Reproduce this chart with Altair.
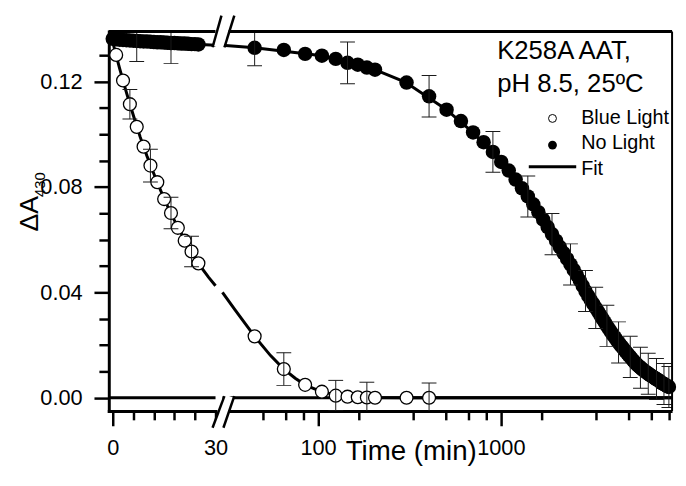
import altair as alt
import pandas as pd

FONT = "Liberation Sans"

# ---------------- data ----------------
# Blue Light (open circles): linear segment (0-30 min) and log segment (>30 min)
blue_t_lin = [1, 3, 5, 7, 9, 11, 13, 15, 17, 19, 21, 23, 25]
blue_v_lin = [0.1301, 0.1204, 0.1114, 0.1028, 0.0953, 0.0881, 0.0818, 0.0754,
              0.0701, 0.0645, 0.0596, 0.0555, 0.0510]
blue_t_log = [45, 65, 85, 105, 125, 145, 165, 185, 205, 305, 405]
blue_v_log = [0.0233, 0.0109, 0.0049, 0.0023, 0.0008, 0.0004, 0.0002, 0.0001,
              0.0000, 0.0000, 0.0000]
blue_err_t = [5, 11, 17, 23, 65, 125, 185, 405]
blue_err_sd = [0.0056, 0.0062, 0.0060, 0.0058, 0.0062, 0.0058, 0.0058, 0.0056]

# No Light (filled circles)
dark_t_lin = [0, 1, 2, 3, 4, 5, 6, 7, 8, 9, 10, 11, 12, 13, 14, 15, 16, 17, 18,
              19, 20, 21, 22, 23, 24, 25]
dark_v_lin = [0.1362, 0.1360, 0.1359, 0.1358, 0.1357, 0.1356, 0.1355, 0.1354,
              0.1353, 0.1352, 0.1352, 0.1351, 0.1350, 0.1349, 0.1349, 0.1348,
              0.1347, 0.1346, 0.1346, 0.1345, 0.1344, 0.1344, 0.1343, 0.1342,
              0.1342, 0.1341]
dark_t_log = [45, 65, 85, 105, 125, 145, 165, 185, 205,
              305, 405, 505, 605, 705, 805, 905, 1005, 1105, 1205, 1305, 1405,
              1505, 1605, 1705, 1805, 1905, 2005, 2105, 2205, 2305, 2405, 2505,
              2605, 2705, 2805, 2905, 3005, 3105, 3205, 3305, 3405, 3505, 3605,
              3705, 3805, 3905, 4005, 4105, 4205, 4305, 4405, 4505, 4605, 4705,
              4805, 4905, 5005, 5105, 5205, 5305, 5405, 5505, 5605, 5705, 5805,
              5905, 6005, 6105, 6205, 6305, 6405, 6505, 6605, 6705, 6805, 6905,
              7005, 7105, 7205, 7305, 7405, 7505, 7605, 7705, 7805, 7905, 8005,
              8105, 8205, 8305]
dark_v_log = [0.1328, 0.1320, 0.1305, 0.1298, 0.1286, 0.1271, 0.1264, 0.1253, 0.1245,
              0.1196, 0.1144, 0.1093, 0.1050, 0.1007, 0.0970, 0.0933, 0.0895, 0.0862,
              0.0828, 0.0795, 0.0764, 0.0734, 0.0704, 0.0676, 0.0648, 0.0621, 0.0596,
              0.0572, 0.0549, 0.0527, 0.0506, 0.0485, 0.0465, 0.0445, 0.0425, 0.0405,
              0.0387, 0.0371, 0.0356, 0.0341, 0.0327, 0.0313, 0.0299, 0.0286, 0.0273,
              0.0261, 0.0250, 0.0239, 0.0229, 0.0219, 0.0210, 0.0201, 0.0193, 0.0185,
              0.0177, 0.0169, 0.0162, 0.0155, 0.0148, 0.0141, 0.0135, 0.0129, 0.0124,
              0.0119, 0.0114, 0.0110, 0.0106, 0.0102, 0.0098, 0.0095, 0.0091, 0.0088,
              0.0085, 0.0082, 0.0079, 0.0076, 0.0073, 0.0071, 0.0068, 0.0066, 0.0063,
              0.0058, 0.0056, 0.0054, 0.0052, 0.0050, 0.0047, 0.0045, 0.0043, 0.0041]
dark_err_t = [7, 17, 45, 145, 405, 905, 1405, 1905, 2405, 2905, 3305, 3805, 4405,
              5105, 5805, 6405, 7105, 7805, 8305]
dark_err_sd = [0.0078, 0.0078, 0.0068, 0.0079, 0.0079, 0.0077, 0.0078, 0.0078,
               0.0078, 0.0078, 0.0078, 0.0078, 0.0078, 0.0078, 0.0078, 0.0078,
               0.0078, 0.0078, 0.0078]

# Fit curves
fit_blue_t_lin = [0, 2, 4, 6, 8, 10, 12, 14, 16, 18, 20, 22, 24, 26, 28, 30]
fit_blue_v_lin = [0.1350, 0.1250, 0.1158, 0.1072, 0.0990, 0.0917, 0.0850, 0.0786,
                  0.0727, 0.0673, 0.0623, 0.0577, 0.0534, 0.0492, 0.0457, 0.0425]
fit_blue_t_log = [30, 35, 45, 55, 65, 75, 85, 100, 125, 150, 200, 300, 8645]
fit_blue_v_log = [0.0400, 0.0335, 0.0233, 0.0160, 0.0109, 0.0074, 0.0049, 0.0028,
                  0.0010, 0.0004, 0.0001, 0.0000, 0.0000]
fit_dark_t_lin = [0, 10, 20, 30]
fit_dark_v_lin = [0.1362, 0.1352, 0.1344, 0.1338]
fit_dark_t_log = [30, 45, 100, 200, 300, 500, 700, 1000, 1500, 2000, 2500, 3000,
                  3500, 4000, 4500, 5000, 5500, 6000, 7000, 8000, 8645]
fit_dark_v_log = [0.1338, 0.1328, 0.1300, 0.1248, 0.1198, 0.1095, 0.1008, 0.0897,
                  0.0735, 0.0597, 0.0486, 0.0388, 0.0314, 0.0251, 0.0202, 0.0162,
                  0.0129, 0.0106, 0.0073, 0.0048, 0.0036]

# Axes
x_ticks_lin = [0, 6, 12, 18, 24, 30]
x_labels_lin = [0, 30]
x_ticks_log = [50, 66.7, 83.3, 100, 166.7, 333.3, 500, 666.7, 833.3, 1000,
               1666.7, 3333.3, 5000, 6666.7, 8333.3]
x_labels_log = [100, 1000]
y_ticks = [0.00, 0.01, 0.02, 0.03, 0.04, 0.05, 0.06, 0.07, 0.08, 0.09, 0.10,
           0.11, 0.12, 0.13]
y_labels = [0.00, 0.04, 0.08, 0.12]

annotation_lines = ["K258A AAT,", "pH 8.5, 25ºC"]
legend_labels = ["Blue Light", "No Light", "Fit"]
x_title = "Time (min)"
y_title = ["ΔA", "430"]

# ---------------- layout constants ----------------
LW, RW, H = 108, 455, 384
GAP = 7
EBAR = "#1a1a1a"


def df(t, v):
    return pd.DataFrame({"t": t, "v": v})


def err_df(t_all, v_all, et, sd):
    look = dict(zip(t_all, v_all))
    return pd.DataFrame({"t": et,
                         "lo": [look[t] - s for t, s in zip(et, sd)],
                         "hi": [look[t] + s for t, s in zip(et, sd)]})


def in_list(vals):
    return " || ".join(f"datum.value == {v}" for v in vals)


ONE = pd.DataFrame({"k": [0]})


def seg(x1, x2, y1, y2, color="black", width=3.0):
    return alt.Chart(ONE).mark_rule(color=color, strokeWidth=width).encode(
        x=alt.value(x1), x2=alt.value(x2), y=alt.value(y1), y2=alt.value(y2))


def txt(s, x, y, size, align="left", angle=0):
    return alt.Chart(pd.DataFrame({"s": [s]})).mark_text(
        font=FONT, fontSize=size, align=align, baseline="alphabetic",
        angle=angle, color="black").encode(
        text="s:N", x=alt.value(x), y=alt.value(y))


ys = alt.Scale(domain=[-0.005, 0.139], nice=False, zero=False)
xs_lin = alt.Scale(domain=[-1.154, 30], nice=False, zero=False)
xs_log = alt.Scale(type="log", domain=[30, 8645], nice=False)

common_axis = dict(grid=False, title=None, labelFont=FONT, labelFontSize=22,
                   labelColor="black", tickColor="black", domainColor="black",
                   tickWidth=2.5, domainWidth=3, labelPadding=12,
                   labelOverlap=False, labelFlush=False)

ax_lin = alt.Axis(values=x_ticks_lin, format="d", labelAngle=0, domainCap="square",
                  labelExpr=f"({in_list(x_labels_lin)}) ? datum.label : ''",
                  tickSize={"condition": {"test": in_list(x_labels_lin), "value": 15}, "value": 9},
                  **common_axis)
ax_log = alt.Axis(values=x_ticks_log, format="d", labelAngle=0, domainCap="butt",
                  labelExpr=f"({in_list(x_labels_log)}) ? datum.label : ''",
                  tickSize={"condition": {"test": in_list(x_labels_log), "value": 15}, "value": 9},
                  **common_axis)
ay = alt.Axis(values=y_ticks, format=".2f", domainCap="square",
              labelExpr=f"({in_list(y_labels)}) ? datum.label : ''",
              tickSize={"condition": {"test": in_list(y_labels), "value": 15}, "value": 10},
              **common_axis)


def panel_layers(xscale, xaxis, yaxis, fb_t, fb_v, fd_t, fd_v,
                 b_t, b_v, d_t, d_v, berr, derr):
    X = alt.X("t:Q", scale=xscale, axis=xaxis)
    Y = alt.Y("v:Q", scale=ys, axis=yaxis)
    fit_b = alt.Chart(df(fb_t, fb_v)).mark_line(color="black", strokeWidth=3).encode(x=X, y=Y)
    fit_d = alt.Chart(df(fd_t, fd_v)).mark_line(color="black", strokeWidth=3).encode(x=X, y=Y)
    zero = alt.Chart(pd.DataFrame({"v": [0.0]})).mark_rule(color="black", strokeWidth=3).encode(
        y=alt.Y("v:Q", scale=ys, axis=yaxis))
    dark = alt.Chart(df(d_t, d_v)).mark_circle(size=215, color="black", opacity=1).encode(x=X, y=Y)
    blue = alt.Chart(df(b_t, b_v)).mark_circle(size=170, fill="white", stroke="black",
                                               strokeWidth=1.3, opacity=1).encode(x=X, y=Y)
    layers = [fit_b, fit_d, zero, dark, blue]
    for e in (berr, derr):
        stem = alt.Chart(e).mark_rule(color=EBAR, strokeWidth=1, clip=True).encode(
            x=X, y=alt.Y("lo:Q", scale=ys, axis=yaxis), y2="hi:Q")
        cap_lo = alt.Chart(e).mark_tick(orient="horizontal", size=15, thickness=1,
                                        color=EBAR, opacity=1, clip=True).encode(
            x=X, y=alt.Y("lo:Q", scale=ys, axis=yaxis))
        cap_hi = alt.Chart(e).mark_tick(orient="horizontal", size=15, thickness=1,
                                        color=EBAR, opacity=1, clip=True).encode(
            x=X, y=alt.Y("hi:Q", scale=ys, axis=yaxis))
        layers += [stem, cap_lo, cap_hi]
    return layers


# ---------------- left panel (linear 0-30 min) ----------------
left_layers = panel_layers(
    xs_lin, ax_lin, ay,
    fit_blue_t_lin, fit_blue_v_lin, fit_dark_t_lin, fit_dark_v_lin,
    blue_t_lin, blue_v_lin, dark_t_lin, dark_v_lin,
    err_df(blue_t_lin, blue_v_lin, blue_err_t[:4], blue_err_sd[:4]),
    err_df(dark_t_lin, dark_v_lin, dark_err_t[:2], dark_err_sd[:2]))
anchor = alt.Chart(ONE).mark_rule(color="white", strokeWidth=0, strokeOpacity=0).encode(
    x=alt.value(-102), x2=alt.value(-101), y=alt.value(-21), y2=alt.value(-21))
left_layers = [anchor] + left_layers + [
    seg(0, LW, 0, 0, width=3),
    txt(y_title[0], -72, 184.5, 27, align="center", angle=270),
    txt(y_title[1], -65, 155, 15, align="center", angle=270),
]
left = alt.layer(*left_layers).properties(width=LW, height=H)

# ---------------- right panel (log, >30 min) ----------------
right_layers = panel_layers(
    xs_log, ax_log, None,
    fit_blue_t_log, fit_blue_v_log, fit_dark_t_log, fit_dark_v_log,
    blue_t_log, blue_v_log, dark_t_log, dark_v_log,
    err_df(blue_t_log, blue_v_log, blue_err_t[4:], blue_err_sd[4:]),
    err_df(dark_t_log, dark_v_log, dark_err_t[2:], dark_err_sd[2:]))

legend_pts = alt.Chart(pd.DataFrame({"k": legend_labels[:1]})).mark_circle(
    size=64, fill="white", stroke="black", strokeWidth=1, opacity=1).encode(
    x=alt.value(334), y=alt.value(88))
legend_pts2 = alt.Chart(pd.DataFrame({"k": legend_labels[1:2]})).mark_circle(
    size=80, color="black", opacity=1).encode(x=alt.value(334), y=alt.value(115))

right_layers += [
    seg(0, RW, 0, 0, width=3),            # top frame
    seg(RW, RW, 0, H, width=2),           # right frame
    # axis-break marks (top and bottom)
    seg(5.5, -4, -16, 16, color="white", width=10),
    seg(-1, -10, -16, 16, width=2.5),
    seg(12, 2, -16, 16, width=2.5),
    seg(7, -4.5, 369, 401, color="white", width=10),
    seg(2, -10, 369, 401, width=2.5),
    seg(12, 1, 369, 401, width=2.5),
    # annotation
    txt(annotation_lines[0], 278, 28, 26),
    txt(annotation_lines[1], 278, 61, 26),
    # legend
    legend_pts, legend_pts2,
    seg(310, 358, 137, 137, width=3),
    txt(legend_labels[0], 363, 94, 20),
    txt(legend_labels[1], 363, 119, 20),
    txt(legend_labels[2], 363, 145, 20),
    # x-axis title
    txt(x_title, 191, 434, 28, align="center"),
]
right = alt.layer(*right_layers).properties(width=RW, height=H)

chart = alt.hconcat(left, right, spacing=GAP, bounds="flush").properties(
    padding=0, background="white"
).configure_view(strokeWidth=0)

chart.save("out.html", embed_options={"renderer": "svg", "actions": False})
